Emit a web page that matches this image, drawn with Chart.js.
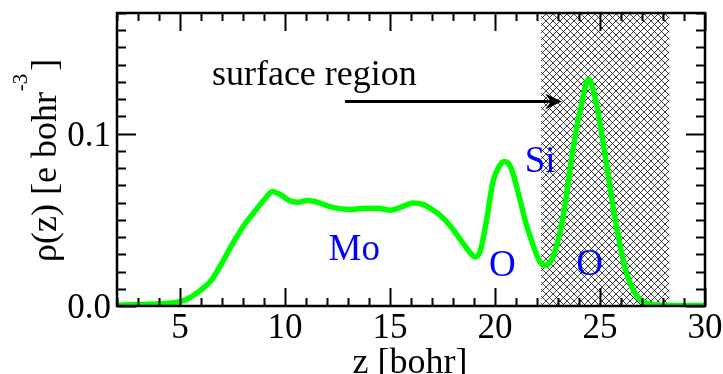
<!DOCTYPE html>
<html>
<head>
<meta charset="utf-8">
<script src="https://cdn.jsdelivr.net/npm/chart.js@4"></script>
<style>
  html, body { margin: 0; padding: 0; background: #fff; }
  canvas { display: block; }
</style>
</head>
<body>
<canvas id="chart" width="723" height="374"></canvas>
<script>
// planar-averaged density along z
const zValues = [2.0, 3.0, 4.0, 5.0, 5.5, 6.0, 6.5, 7.0, 7.5, 8.0, 8.5, 9.0, 9.4, 9.8,
  10.2, 10.6, 11.1, 11.6, 12.1, 12.6, 13.1, 13.6, 14.1, 14.5, 15.0, 15.5, 16.1, 16.6,
  17.0, 17.4, 17.9, 18.5, 18.85, 19.05, 19.3, 19.6, 19.9, 20.2, 20.45, 20.75, 21.1, 21.45,
  21.85, 22.1, 22.35, 22.7, 23.0, 23.3, 23.7, 24.1, 24.45, 24.75, 25.2, 25.7, 26.2,
  26.6, 27.1, 27.8, 29.0, 30.0];
const rhoValues = [0.0005, 0.0008, 0.0013, 0.0025, 0.005, 0.0093, 0.015, 0.025, 0.036, 0.046,
  0.054, 0.0615, 0.0665, 0.0645, 0.0612, 0.0602, 0.0612, 0.0600, 0.0578, 0.0565, 0.0560,
  0.0566, 0.0567, 0.0566, 0.0556, 0.0572, 0.0597, 0.0588, 0.0560, 0.0525, 0.0460, 0.0360,
  0.0305, 0.0285, 0.0320, 0.0500, 0.0720, 0.0810, 0.0838, 0.0805, 0.0660, 0.0490, 0.0340,
  0.0265, 0.0236, 0.0270, 0.0380, 0.0560, 0.0900, 0.1160, 0.1315, 0.1220, 0.0910, 0.0520,
  0.0220, 0.0090, 0.0020, 0.0005, 0.0003, 0.0003];

const xTicks = [5, 10, 15, 20, 25, 30];
const yTicks = [0.0, 0.1];
const yTickLabels = ['0.0', '0.1'];

const surfaceRegion = [22.2, 28.3];
const atomNames = ['Mo', 'O', 'Si', 'O'];
const atomZ = [13.3, 20.35, 22.15, 24.5];
const atomRho = [0.0267, 0.0176, 0.0775, 0.0180];

const serif = '"Liberation Serif", serif';

// cross-hatch tile for the surface slab
function hatchPattern(ctx) {
  const p = 7;
  const c = document.createElement('canvas');
  c.width = p; c.height = p;
  const g = c.getContext('2d');
  g.fillStyle = '#fff';
  g.fillRect(0, 0, p, p);
  g.strokeStyle = 'rgba(0,0,0,0.75)';
  g.lineWidth = 1;
  g.beginPath();
  g.moveTo(0, 0); g.lineTo(p, p);
  g.moveTo(p, 0); g.lineTo(0, p);
  g.stroke();
  return ctx.createPattern(c, 'repeat');
}

const decor = {
  id: 'decor',
  beforeDatasetsDraw(chart) {
    const { ctx, chartArea: a, scales: { x } } = chart;
    const x0 = x.getPixelForValue(surfaceRegion[0]);
    const x1 = x.getPixelForValue(surfaceRegion[1]);
    ctx.save();
    ctx.fillStyle = hatchPattern(ctx);
    ctx.fillRect(x0, a.top, x1 - x0, a.bottom - a.top);
    ctx.restore();
  },
  afterDatasetsDraw(chart) {
    const { ctx, chartArea: a, scales: { x, y } } = chart;
    ctx.save();

    // ticks on all four sides, pointing inwards
    ctx.strokeStyle = '#000';
    ctx.lineWidth = 2;
    ctx.beginPath();
    for (let v = Math.ceil(x.min); v <= x.max; v++) {
      const px = Math.round(x.getPixelForValue(v)) + 0.5;
      const len = v % 5 === 0 ? 18 : 8;
      ctx.moveTo(px, a.bottom); ctx.lineTo(px, a.bottom - len);
      ctx.moveTo(px, a.top); ctx.lineTo(px, a.top + len);
    }
    for (let i = 0; i <= Math.round(y.max * 100); i++) {
      const py = Math.round(y.getPixelForValue(i / 100)) + 0.5;
      const len = i % 10 === 0 ? 19 : 9;
      ctx.moveTo(a.left, py); ctx.lineTo(a.left + len, py);
      ctx.moveTo(a.right, py); ctx.lineTo(a.right - len, py);
    }
    ctx.stroke();

    ctx.lineWidth = 2.5;
    ctx.strokeRect(a.left, a.top, a.right - a.left, a.bottom - a.top);

    // tick labels
    ctx.fillStyle = '#000';
    ctx.font = '35px ' + serif;
    ctx.textBaseline = 'alphabetic';
    ctx.textAlign = 'center';
    xTicks.forEach(v => ctx.fillText(String(v), x.getPixelForValue(v), a.bottom + 32));
    ctx.textAlign = 'right';
    yTicks.forEach((v, i) => ctx.fillText(yTickLabels[i], a.left - 6, y.getPixelForValue(v) + 12));

    // axis titles
    ctx.font = '36px ' + serif;
    ctx.textAlign = 'center';
    ctx.fillText('z [bohr]', (a.left + a.right) / 2 - 1, 373);

    ctx.save();
    ctx.translate(56, 262);
    ctx.rotate(-Math.PI / 2);
    ctx.textAlign = 'left';
    const main = 'ρ(z) [e bohr';
    ctx.fillText(main, 0, 0);
    let w = ctx.measureText(main).width + 1;
    ctx.font = '21px ' + serif;
    ctx.fillText('-3', w, -29);
    w += ctx.measureText('-3').width + 3;
    ctx.font = '36px ' + serif;
    ctx.fillText(']', w, 0);
    ctx.restore();

    // surface region note with arrow
    ctx.font = '36px ' + serif;
    ctx.textAlign = 'left';
    ctx.fillText('surface region', x.getPixelForValue(6.52), y.getPixelForValue(0.1285));
    const ay = y.getPixelForValue(0.1186);
    const ax0 = x.getPixelForValue(12.86);
    const ax1 = x.getPixelForValue(23.19);
    ctx.lineWidth = 3;
    ctx.beginPath();
    ctx.moveTo(ax0, ay); ctx.lineTo(ax1 - 6, ay);
    ctx.stroke();
    ctx.beginPath();
    ctx.moveTo(ax1, ay);
    ctx.lineTo(ax1 - 17, ay - 8);
    ctx.lineTo(ax1 - 11, ay);
    ctx.lineTo(ax1 - 17, ay + 8);
    ctx.closePath();
    ctx.fill();

    // atom labels
    ctx.fillStyle = '#0000ff';
    ctx.textAlign = 'center';
    ctx.font = '37px ' + serif;
    atomNames.forEach((t, i) => ctx.fillText(t, x.getPixelForValue(atomZ[i]), y.getPixelForValue(atomRho[i])));

    ctx.restore();
  }
};

function draw() {
  new Chart(document.getElementById('chart').getContext('2d'), {
    type: 'line',
    data: {
      datasets: [{
        data: zValues.map((z, i) => ({ x: z, y: rhoValues[i] })),
        borderColor: '#00ff00',
        borderWidth: 5.5,
        pointRadius: 0,
        cubicInterpolationMode: 'monotone',
        borderCapStyle: 'round',
        borderJoinStyle: 'round',
        fill: false
      }]
    },
    options: {
      responsive: false,
      devicePixelRatio: 1,
      animation: false,
      layout: { padding: { left: 117, right: 18, top: 13, bottom: 68 } },
      plugins: { legend: { display: false }, tooltip: { enabled: false } },
      scales: {
        x: { type: 'linear', min: 2, max: 30, display: false },
        y: { type: 'linear', min: 0, max: 0.17, display: false }
      }
    },
    plugins: [decor]
  });
}

// make sure the serif face is ready before the canvas text is painted
document.fonts.load('36px "Liberation Serif"', 'ρ').then(draw, draw);
</script>
</body>
</html>
